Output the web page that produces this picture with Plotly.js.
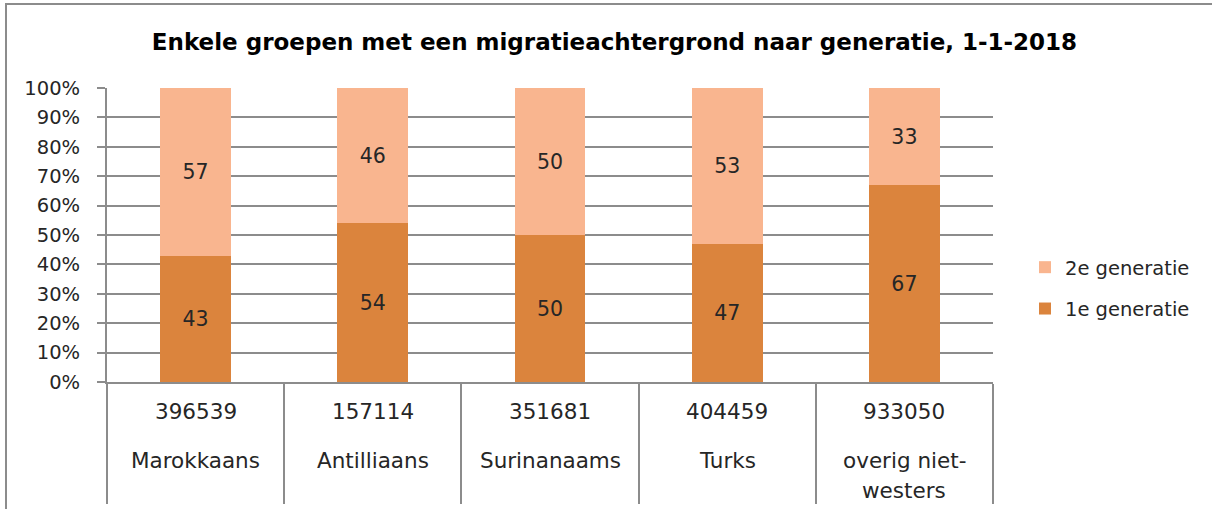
<!DOCTYPE html>
<html>
<head>
<meta charset="utf-8">
<script src="https://cdn.plot.ly/plotly-3.0.1.min.js"></script>
<style>
  html, body { margin: 0; padding: 0; background: #fff; }
  #wrap { position: relative; width: 1212px; height: 509px; }
  #chart { width: 1212px; height: 509px; }
  #frame { position: absolute; left: 5px; top: 3px; right: -4px; bottom: -4px;
           border-left: 2px solid #8c8c8c; border-top: 2px solid #8c8c8c; pointer-events: none; }
</style>
</head>
<body>
<div id="wrap">
  <div id="chart"></div>
  <div id="frame"></div>
</div>
<script>
const categories = ["Marokkaans", "Antilliaans", "Surinanaams", "Turks", "overig niet-westers"];
const categoryLines = [["Marokkaans"], ["Antilliaans"], ["Surinanaams"], ["Turks"], ["overig niet-", "westers"]];
const totals = ["396539", "157114", "351681", "404459", "933050"];
const gen1 = [43, 54, 50, 47, 67];
const gen2 = [57, 46, 50, 53, 33];
const yTicks = [0, 10, 20, 30, 40, 50, 60, 70, 80, 90, 100];

const FONT = "'DejaVu Sans', sans-serif";
const TXT = "#262626";
const GRID = "#8c8c8c";
const FS = 19.5;
const FS_CAT = 21.5;
const FS_BAR = 20.5;

const traces = [
  {
    type: "bar", name: "1e generatie", x: categories, y: gen1, legendrank: 2, legendgroup: "g1",
    marker: { color: "#DB843D" }, text: gen1.map(String), textposition: "inside",
    insidetextanchor: "middle", textfont: { family: FONT, size: FS_BAR, color: TXT },
    hoverinfo: "x+y+name"
  },
  {
    type: "bar", name: "2e generatie", x: categories, y: gen2, legendrank: 1, legendgroup: "g2",
    marker: { color: "#F9B58F" }, text: gen2.map(String), textposition: "inside",
    insidetextanchor: "middle", textfont: { family: FONT, size: FS_BAR, color: TXT },
    hoverinfo: "x+y+name"
  }
];

const PLOT_TOP = 88, PLOT_BOTTOM = 382;
const pxToPaper = (py) => (PLOT_BOTTOM - py) / (PLOT_BOTTOM - PLOT_TOP);

const annotations = [];
categories.forEach((c, i) => {
  annotations.push({
    x: c, xref: "x", y: pxToPaper(411), yref: "paper", yanchor: "middle",
    text: totals[i], showarrow: false, font: { family: FONT, size: FS_CAT, color: TXT }
  });
  categoryLines[i].forEach((line, j) => {
    annotations.push({
      x: c, xref: "x", y: pxToPaper(460 + 30 * j), yref: "paper", yanchor: "middle",
      text: line, showarrow: false, font: { family: FONT, size: FS_CAT, color: TXT }
    });
  });
});

const layout = {
  width: 1212, height: 509,
  margin: { l: 107, r: 219, t: PLOT_TOP, b: 509 - PLOT_BOTTOM, pad: 0 },
  paper_bgcolor: "#fff", plot_bgcolor: "#fff",
  barmode: "stack", bargap: 0.6,
  title: {
    text: "Enkele groepen met een migratieachtergrond naar generatie, 1-1-2018",
    font: { family: FONT, size: 23, color: "#000", weight: "bold" },
    x: 0.507, xref: "container", xanchor: "center", y: 1 - 42 / 509, yref: "container", yanchor: "middle"
  },
  font: { family: FONT, size: FS, color: TXT },
  xaxis: {
    type: "category", showticklabels: false, tickson: "boundaries", ticks: "outside",
    ticklen: 120, tickwidth: 2, tickcolor: GRID, showgrid: false,
    showline: true, linecolor: GRID, linewidth: 2, fixedrange: true
  },
  yaxis: {
    range: [0, 100], tickvals: yTicks, ticktext: yTicks.map(v => v + "%"),
    ticks: "outside", ticklen: 8, tickwidth: 2, tickcolor: GRID,
    showgrid: true, gridcolor: GRID, gridwidth: 2, zeroline: false,
    showline: true, linecolor: GRID, linewidth: 2, ticklabelstandoff: 13,
    tickfont: { family: FONT, size: FS, color: TXT }, fixedrange: true
  },
  legend: {
    x: 1025 / 1212, xref: "container", y: 1 - 288 / 509, yref: "container",
    xanchor: "left", yanchor: "middle", traceorder: "grouped",
    font: { family: FONT, size: FS, color: TXT }, tracegroupgap: 13,
    itemwidth: 30
  },
  annotations: annotations,
  showlegend: true
};

Plotly.newPlot("chart", traces, layout, { displayModeBar: false, staticPlot: true });
</script>
</body>
</html>
